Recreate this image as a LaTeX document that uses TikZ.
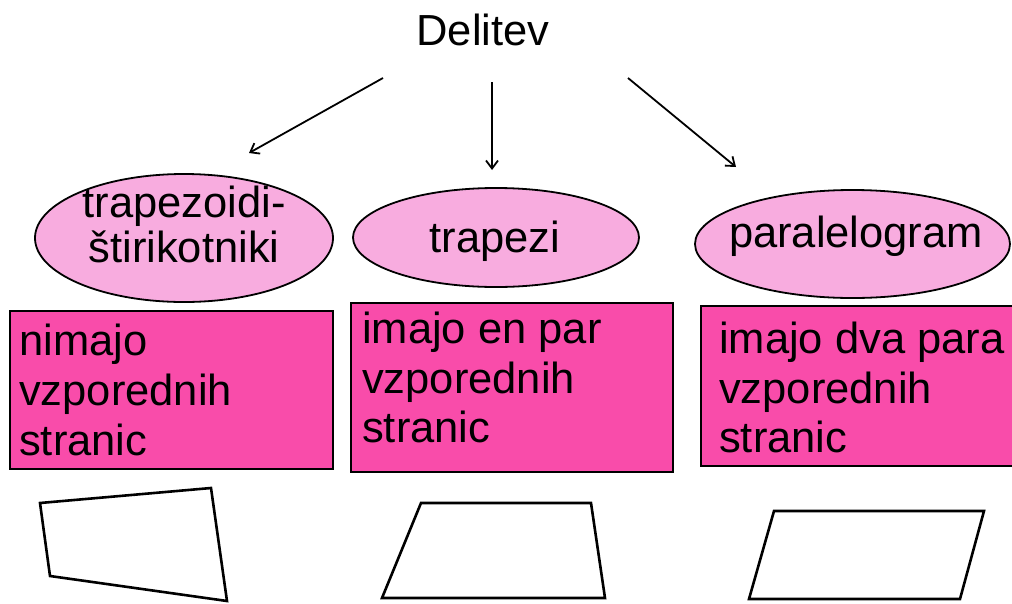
\documentclass[tikz,border=0pt]{standalone}
\usepackage{fontspec}
\setmainfont{Liberation Sans}
\usetikzlibrary{arrows.meta,shapes.geometric}
\definecolor{ellfill}{RGB}{248,172,223}
\definecolor{boxfill}{RGB}{249,76,170}
\begin{document}
\begin{tikzpicture}[x=1pt,y=-1pt,
  ell/.style={ellipse, draw=black, line width=1.8pt, fill=ellfill, inner sep=0pt},
  box/.style={rectangle, draw=black, line width=1.7pt, fill=boxfill, inner sep=0pt, anchor=north west},
  lbl/.style={font=\fontsize{43.5}{50}\selectfont, inner sep=0pt},
  boxtxt/.style={lbl, align=left, anchor=north west},
  arr/.style={line width=1.8pt, -{Straight Barb[length=8pt,width=12pt]}},
  shp/.style={draw=black, line width=2.6pt, line join=miter}]
\useasboundingbox (0,0) rectangle (1012,603);
% ellipses
\node[ell, minimum width=298pt, minimum height=128pt] (e1) at (184,238) {};
\node[ell, minimum width=286pt, minimum height=99pt] (e2) at (496,237.5) {};
\node[ell, minimum width=315pt, minimum height=108pt] (e3) at (852.5,244) {};
% boxes
\node[box, minimum width=323pt, minimum height=158pt] (r1) at (9,310) {};
\node[box, minimum width=322pt, minimum height=169pt] (r2) at (350,302) {};
\node[box, minimum width=316pt, minimum height=160pt] (r3) at (700,305) {};
% title
\node[lbl, anchor=base] (title) at (483,45) {Delitev};
% ellipse texts
\node[lbl, align=center, anchor=north, font=\fontsize{43.5}{45}\selectfont] (t1) at (184,186) {trapezoidi-\\štirikotniki};
\node[lbl, anchor=base] (t2) at (495,252) {trapezi};
\node[lbl, anchor=base] (t3) at (856,247) {paralelogram};
% box texts
\node[boxtxt] (b1) at (19,324) {nimajo\\vzporednih\\stranic};
\node[boxtxt, font=\fontsize{43.5}{49.5}\selectfont] (b2) at (362,312) {imajo en par\\vzporednih\\stranic};
\node[boxtxt, font=\fontsize{43.5}{49.5}\selectfont] (b3) at (719,322) {imajo dva para\\vzporednih\\stranic};
% arrows
\coordinate (a1s) at (383,78);
\coordinate (a1e) at (249,153);
\coordinate (a2s) at (492,82);
\coordinate (a2e) at (492,170);
\coordinate (a3s) at (628,78);
\coordinate (a3e) at (736,167);
\draw[arr] (a1s) -- (a1e);
\draw[arr] (a2s) -- (a2e);
\draw[arr] (a3s) -- (a3e);
% quadrilaterals
\draw[shp] (40,503) -- (211,488) -- (227,601) -- (50,576) -- cycle;
\draw[shp] (421,503) -- (591,503) -- (605,598) -- (382,598) -- cycle;
\draw[shp] (774,511) -- (984,511) -- (960,599) -- (749,599) -- cycle;
\end{tikzpicture}
\end{document}
